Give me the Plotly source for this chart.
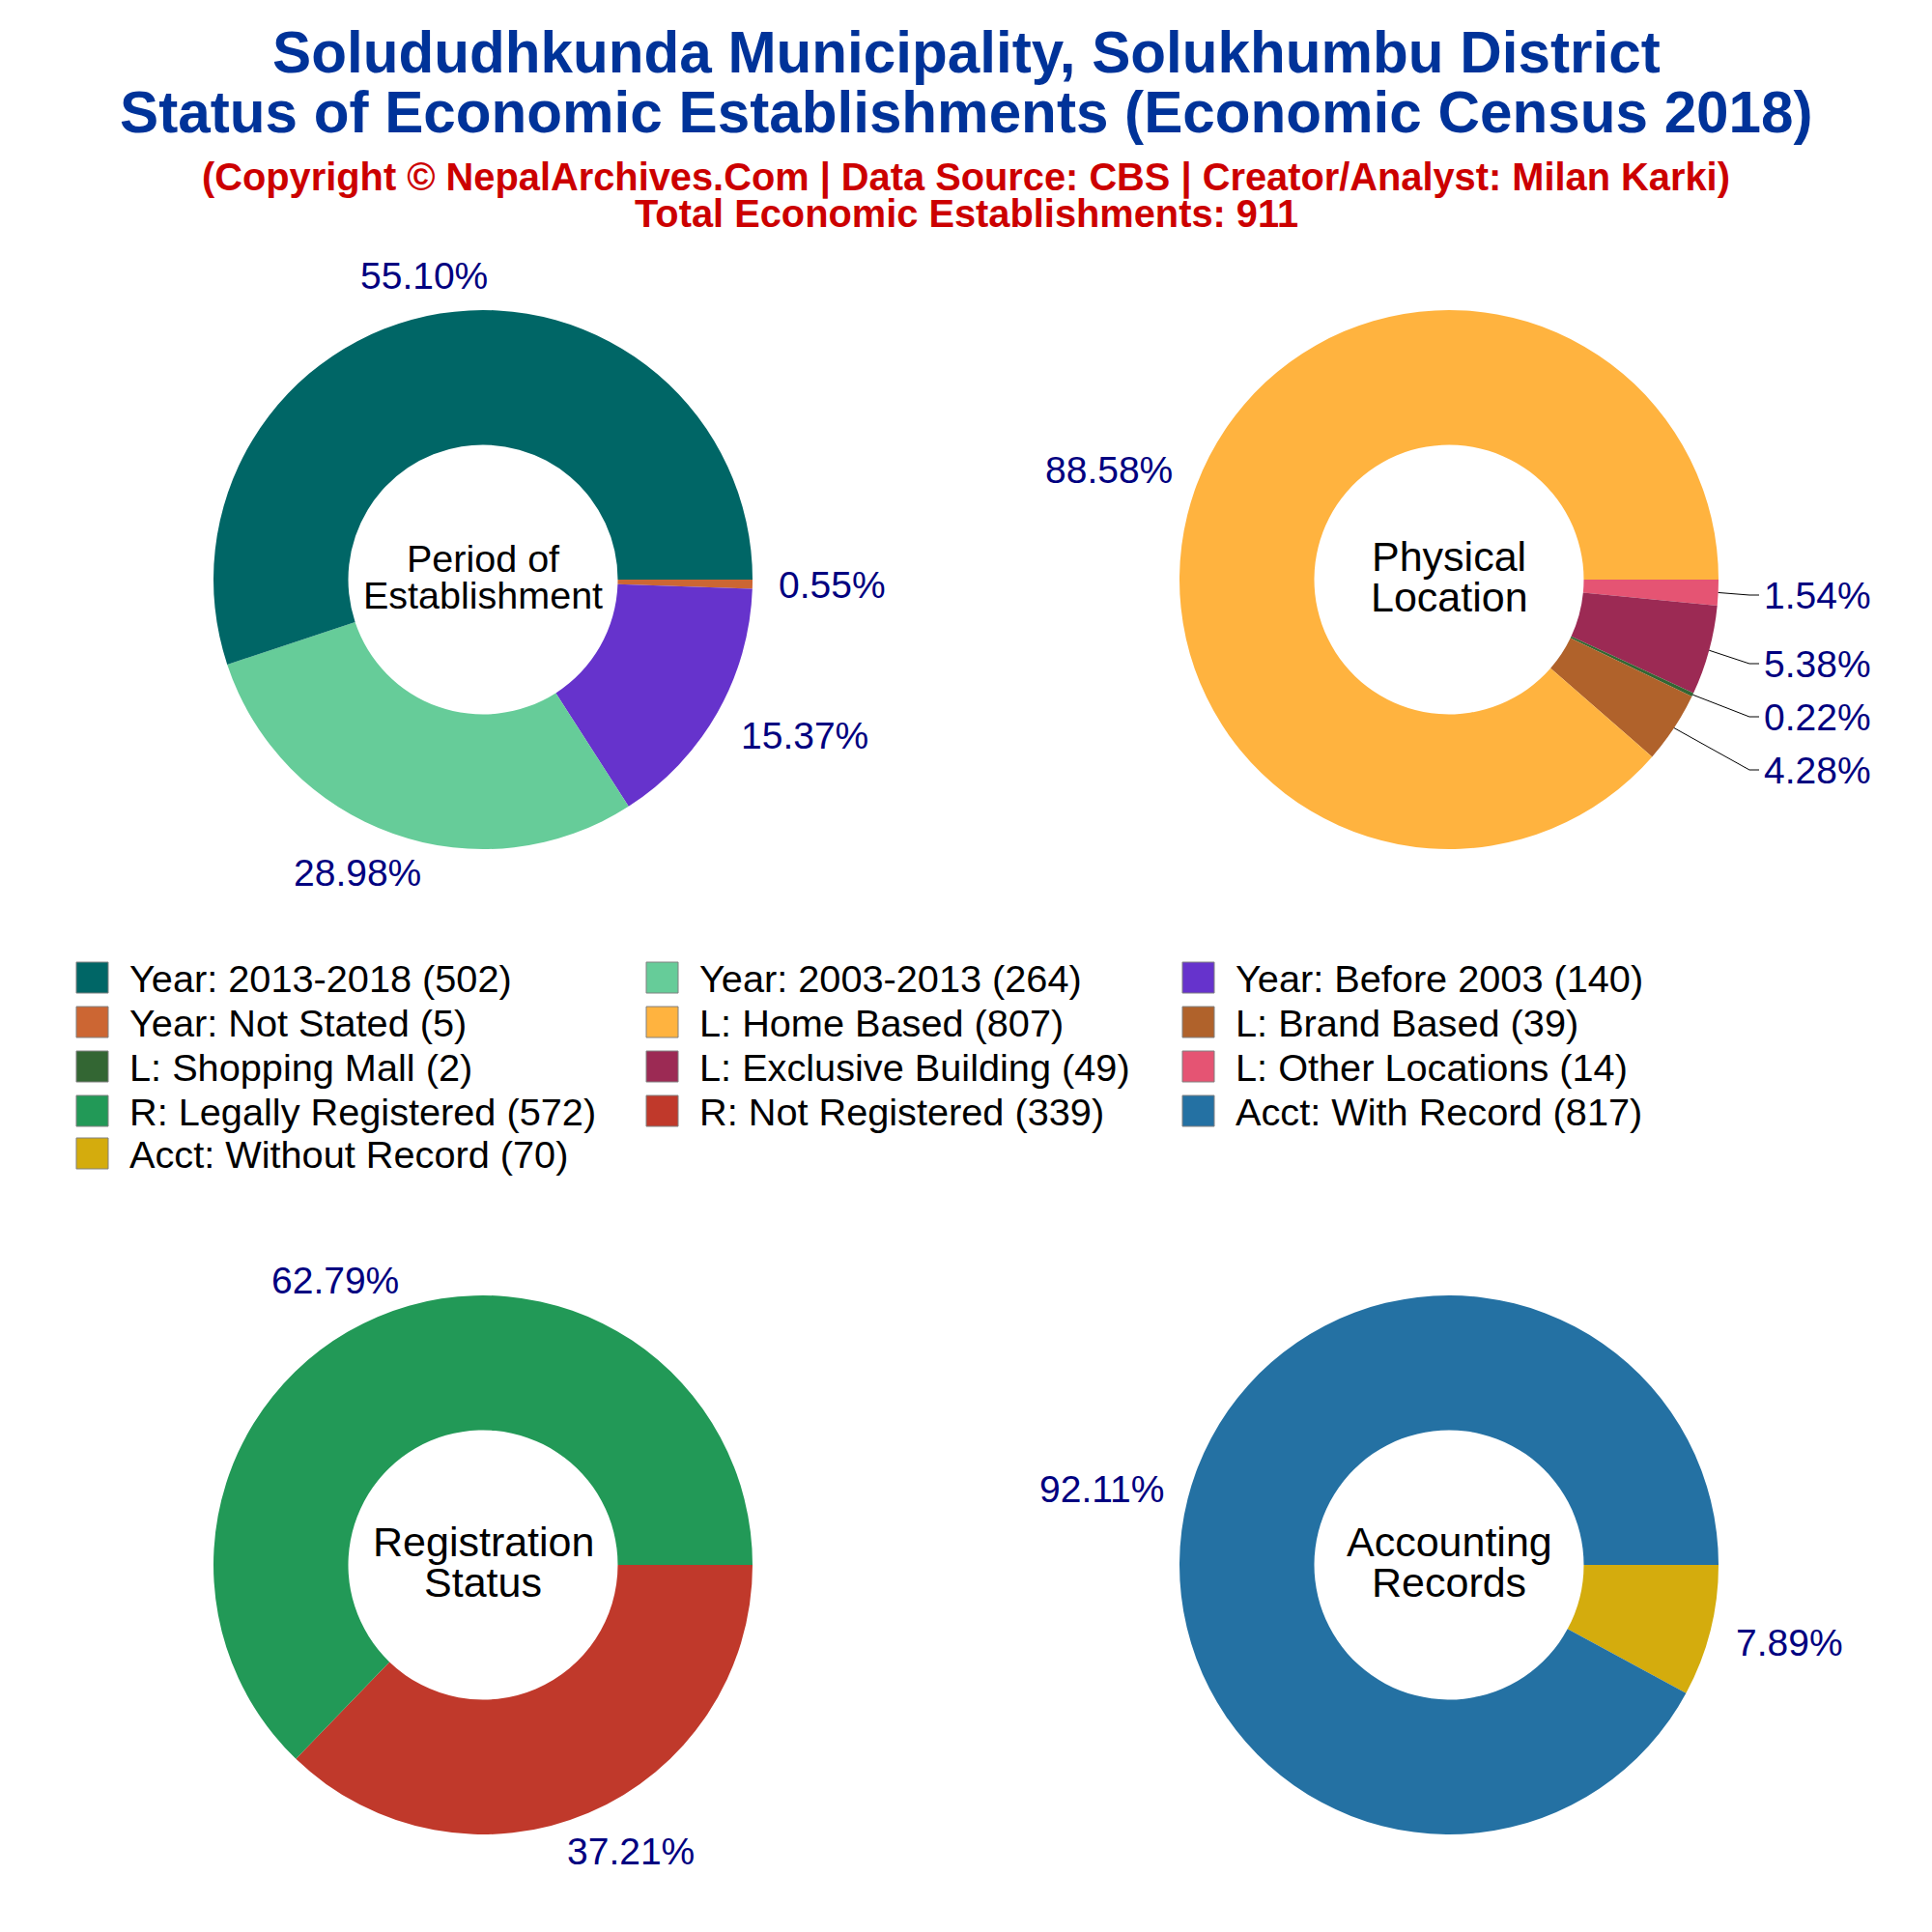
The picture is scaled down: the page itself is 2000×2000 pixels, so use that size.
import math

import plotly.graph_objects as go

FONT = "Liberation Sans"
SIZE = 2000
PAGE_MARGIN = 8  # browser default body margin around the plot div
RADIUS = 279
PCT_COLOR = "#000080"

period_labels = ["Year: 2013-2018", "Year: 2003-2013", "Year: Before 2003", "Year: Not Stated"]
period_values = [502, 264, 140, 5]
period_colors = ["#006666", "#66CC99", "#6633CC", "#CC6633"]

location_labels = ["L: Home Based", "L: Brand Based", "L: Shopping Mall", "L: Exclusive Building", "L: Other Locations"]
location_values = [807, 39, 2, 49, 14]
location_colors = ["#FFB33F", "#B0622B", "#336633", "#9C2A54", "#E55473"]

registration_labels = ["R: Legally Registered", "R: Not Registered"]
registration_values = [572, 339]
registration_colors = ["#229957", "#C0392B"]

accounting_labels = ["Acct: With Record", "Acct: Without Record"]
accounting_values = [817, 70]
accounting_colors = ["#2471A3", "#D4AC0D"]

# where the percent labels sit, in page pixels, same order as the values
period_pct_pos = [(439, 285), (370, 904), (833, 761), (861, 605)]
location_pct_pos = [(1148, 486), (1881, 797), (1881, 742), (1881, 687), (1881, 616)]
registration_pct_pos = [(347, 1325), (653, 1916)]
accounting_pct_pos = [(1140, 1541), (1852, 1700)]


def px(x):
    return (x - PAGE_MARGIN) / SIZE


def py(y):
    return 1 - (y - PAGE_MARGIN) / SIZE


def add_text(fig, x, y, text, size, color="black", bold=False, xanchor="center"):
    fig.add_annotation(
        x=px(x), y=py(y), xref="paper", yref="paper", text=f"<b>{text}</b>" if bold else text,
        showarrow=False, xanchor=xanchor, yanchor="middle",
        font=dict(family=FONT, size=size, color=color),
    )


def donut(labels, values, colors, cx, cy):
    # slices run clockwise from 3 o'clock in reverse order of the legend
    return go.Pie(
        labels=labels[::-1],
        values=values[::-1],
        sort=False,
        direction="clockwise",
        rotation=90,
        hole=0.5,
        marker=dict(colors=colors[::-1]),
        textinfo="none",
        domain=dict(x=[px(cx - RADIUS), px(cx + RADIUS)], y=[py(cy + RADIUS), py(cy - RADIUS)]),
        showlegend=False,
    )


def add_pct_labels(fig, values, positions):
    total = sum(values)
    for value, (x, y) in zip(values, positions):
        add_text(fig, x, y, f"{value / total:.2%}", 39, PCT_COLOR)


fig = go.Figure()
fig.add_trace(donut(period_labels, period_values, period_colors, 500, 600))
fig.add_trace(donut(location_labels, location_values, location_colors, 1500, 600))
fig.add_trace(donut(registration_labels, registration_values, registration_colors, 500, 1620))
fig.add_trace(donut(accounting_labels, accounting_values, accounting_colors, 1500, 1620))

add_pct_labels(fig, period_values, period_pct_pos)
add_pct_labels(fig, location_values, location_pct_pos)
add_pct_labels(fig, registration_values, registration_pct_pos)
add_pct_labels(fig, accounting_values, accounting_pct_pos)

# leader lines only for the crowded small slices of the location donut
done = location_values[0]
for value, (x, y) in zip(location_values[1:], location_pct_pos[1:]):
    mid = 2 * math.pi * (done + value / 2) / sum(location_values)
    x0 = 1500 + RADIUS * math.cos(mid)
    y0 = 600 - RADIUS * math.sin(mid)
    path = f"M{px(x0)},{py(y0)} L{px(x - 70)},{py(y)} L{px(x - 60)},{py(y)}"
    fig.add_shape(type="path", xref="paper", yref="paper", path=path, line=dict(color="black", width=1))
    done += value

# heading
add_text(fig, 1000, 55, "Solududhkunda Municipality, Solukhumbu District", 60.2, "#003399", True)
add_text(fig, 1000, 117, "Status of Economic Establishments (Economic Census 2018)", 60.2, "#003399", True)
add_text(fig, 1000, 183, "(Copyright © NepalArchives.Com | Data Source: CBS | Creator/Analyst: Milan Karki)", 39.8, "#CC0000", True)
add_text(fig, 1000, 221, "Total Economic Establishments: 911", 39.8, "#CC0000", True)

# donut centre labels
add_text(fig, 500, 578, "Period of", 39.5)
add_text(fig, 500, 616, "Establishment", 39.5)
add_text(fig, 1500, 576, "Physical", 43)
add_text(fig, 1500, 618, "Location", 43)
add_text(fig, 500, 1596, "Registration", 43)
add_text(fig, 500, 1638, "Status", 43)
add_text(fig, 1500, 1596, "Accounting", 43)
add_text(fig, 1500, 1638, "Records", 43)

# legend: three columns filled row by row, one box per slice
legend_labels = period_labels + location_labels + registration_labels + accounting_labels
legend_values = period_values + location_values + registration_values + accounting_values
legend_colors = period_colors + location_colors + registration_colors + accounting_colors
column_x = [79, 669, 1224]
row_y = [1012, 1058, 1104, 1150, 1194]
for i, (label, value, color) in enumerate(zip(legend_labels, legend_values, legend_colors)):
    x = column_x[i % 3]
    y = row_y[i // 3]
    fig.add_shape(
        type="rect", xref="paper", yref="paper",
        x0=px(x), x1=px(x + 33), y0=py(y + 16), y1=py(y - 16),
        fillcolor=color, line=dict(color="#808080", width=1),
    )
    add_text(fig, x + 53, y + 1, f"{label} ({value})", 39.7, xanchor="left")

fig.update_layout(
    width=SIZE,
    height=SIZE,
    autosize=False,
    margin=dict(l=0, r=0, t=0, b=0),
    paper_bgcolor="white",
    font=dict(family=FONT),
)

fig.write_html("out.html")
